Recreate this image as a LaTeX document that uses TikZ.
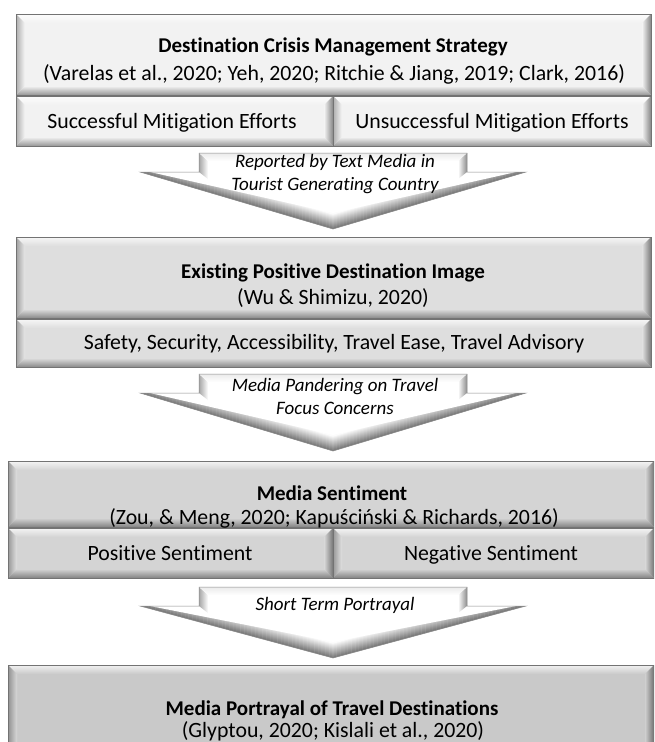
\documentclass[tikz,border=0pt]{standalone}
\usepackage{fontspec}
\setmainfont{Carlito}[Ligatures=NoCommon]
\usetikzlibrary{calc}
\newcommand\bw{9}
% #1 x1, #2 y1, #3 x2, #4 y2, #5 face colour
\newcommand\bevbox[5]{%
  \fill[#5] (#1,#2) rectangle (#3,#4);
  \shade[top color=#5!25!white, bottom color=#5] (#1,#2) -- (#3,#2) -- ({#3-\bw},{#2+\bw}) -- ({#1+\bw},{#2+\bw}) -- cycle;
  \shade[left color=#5!72!black, right color=#5!70!white] (#1,#2) -- ({#1+\bw},{#2+\bw}) -- ({#1+\bw},{#4-\bw}) -- (#1,#4) -- cycle;
  \shade[top color=#5, bottom color=#5!62!black] (#1,#4) -- ({#1+\bw},{#4-\bw}) -- ({#3-\bw},{#4-\bw}) -- (#3,#4) -- cycle;
  \shade[left color=#5!90!white, right color=#5!55!black] (#3,#2) -- ({#3-\bw},{#2+\bw}) -- ({#3-\bw},{#4-\bw}) -- (#3,#4) -- cycle;
  \draw[boxline] (#1,#2) rectangle (#3,#4);
}
% #1 top y, #2 tip depth
\newcommand\downarr[2]{%
  \def\arrpath{(199,#1) -- (467,#1) -- (467,{#1+19}) -- (526,{#1+19}) -- (333,{#1+#2}) -- (140,{#1+19}) -- (199,{#1+19}) -- cycle}
  \fill[white] \arrpath;
  \begin{scope}
    \clip \arrpath;
    \foreach \i in {0,...,15}{
      \pgfmathsetmacro\lev{55-3.6*\i}
      \draw[line width=1.3pt, black!\lev!white] (130,{#1+19-\i-2.9}) -- (333,{#1+#2-\i}) -- (536,{#1+19-\i-2.9});
    }
    \fill[white] (150,{#1+19}) -- (333,{#1+#2-16}) -- (516,{#1+19}) -- cycle;
    \fill[white] (208,{#1+8}) rectangle (458,{#1+26});
    \shade[left color=black!35!white, right color=white] (199,#1) -- (208,{#1+8}) -- (208,{#1+26}) -- (199,{#1+19}) -- cycle;
    \shade[left color=white, right color=black!45!white] (467,#1) -- (458,{#1+8}) -- (458,{#1+26}) -- (467,{#1+19}) -- cycle;
    \shade[top color=black!8!white, bottom color=white] (199,#1) -- (467,#1) -- (458,{#1+8}) -- (208,{#1+8}) -- cycle;
  \end{scope}
  \draw[arrline] \arrpath;
}
\tikzset{
  boxline/.style={draw=black!55!white, line width=0.6pt},
  arrline/.style={draw=black!45!white, line width=0.5pt},
  titletext/.style={font=\bfseries\fontsize{21}{24}\selectfont, inner sep=0pt, anchor=base},
  citetext/.style={font=\fontsize{21.8}{24}\selectfont, inner sep=0pt, anchor=base},
  subtext/.style={font=\fontsize{21.8}{24}\selectfont, inner sep=0pt, anchor=base},
  arrtext/.style={font=\itshape\fontsize{19}{23}\selectfont, align=center, inner sep=0pt, anchor=base}
}
\colorlet{faceA}{black!5!white}
\colorlet{faceB}{black!13!white}
\colorlet{faceC}{black!17!white}
\colorlet{faceD}{black!21!white}
\begin{document}
\begin{tikzpicture}[x=1pt, y=-1pt]
\useasboundingbox (0,0) rectangle (654,742);
\fill[white] (0,0) rectangle (654,742);
\clip (0,0) rectangle (654,742);

% Box 1
\bevbox{16}{14}{651}{95}{faceA}
\bevbox{16}{96}{333}{146}{faceA}
\bevbox{333}{96}{651}{146}{faceA}
\node[titletext] (t1) at (333,52) {Destination Crisis Management Strategy};
\node[citetext] (c1) at (334,80) {(Varelas et al., 2020; Yeh, 2020; Ritchie \& Jiang, 2019; Clark, 2016)};
\node[subtext] (s1a) at (172,128) {Successful Mitigation Efforts};
\node[subtext] (s1b) at (492,128) {Unsuccessful Mitigation Efforts};

% Arrow 1
\downarr{153}{76}
\node[arrtext] (a1) at (335,190) {Reported by Text Media in\\Tourist Generating Country};

% Box 2
\bevbox{16}{237}{651}{318}{faceB}
\bevbox{16}{319}{651}{367}{faceB}
\node[titletext] (t2) at (333,278) {Existing Positive Destination Image};
\node[citetext] (c2) at (333,304) {(Wu \& Shimizu, 2020)};
\node[subtext] (s2) at (334,349) {Safety, Security, Accessibility, Travel Ease, Travel Advisory};

% Arrow 2
\downarr{374}{77}
\node[arrtext] (a2) at (335,414) {Media Pandering on Travel\\Focus Concerns};

% Box 3
\bevbox{8}{461}{654}{527}{faceC}
\bevbox{8}{528}{333}{578}{faceC}
\bevbox{333}{528}{654}{578}{faceC}
\node[titletext] (t3) at (332,500) {Media Sentiment};
\node[citetext] (c3) at (334,524) {(Zou, \& Meng, 2020; Kapuściński \& Richards, 2016)};
\node[subtext] (s3a) at (170,560) {Positive Sentiment};
\node[subtext] (s3b) at (491,560) {Negative Sentiment};

% Arrow 3
\downarr{587}{71}
\node[arrtext] (a3) at (335,610) {Short Term Portrayal};

% Box 4
\bevbox{8}{665}{654}{760}{faceD}
\node[titletext] (t4) at (332,715) {Media Portrayal of Travel Destinations};
\node[citetext] (c4) at (333,737) {(Glyptou, 2020; Kislali et al., 2020)};
\end{tikzpicture}
\end{document}
